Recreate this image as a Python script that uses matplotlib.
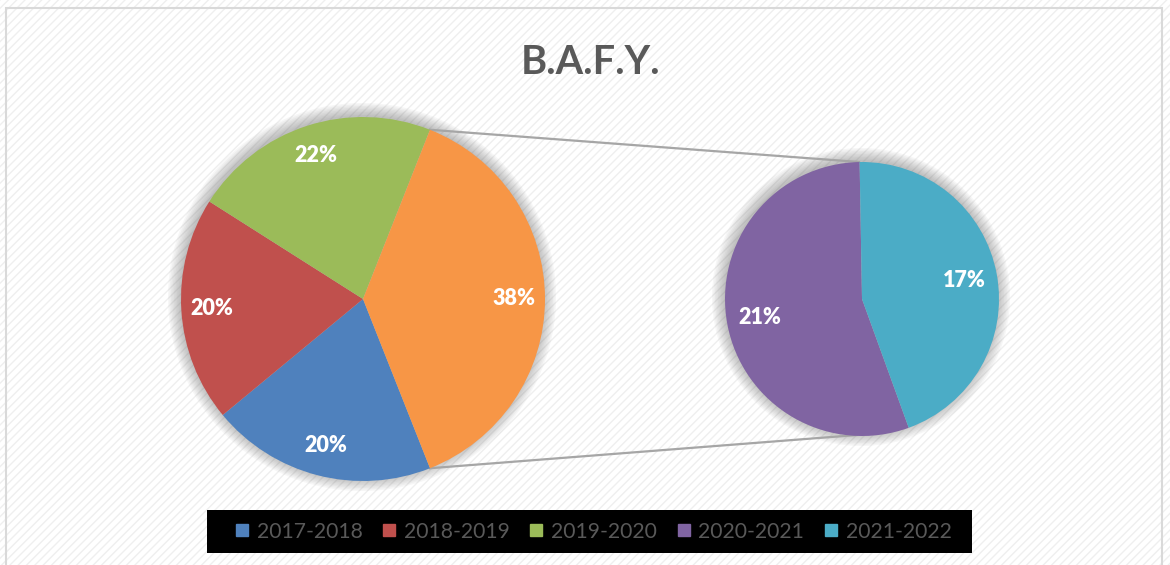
import numpy as np
import matplotlib.pyplot as plt
from matplotlib.patches import Circle, Rectangle
from matplotlib.lines import Line2D

plt.rcParams['font.family'] = ['Lato', 'DejaVu Sans']

# data (percent of total)
years = ["2017-2018", "2018-2019", "2019-2020", "2020-2021", "2021-2022"]
shares = [20, 20, 22, 21, 17]
colors = ["#4F81BD", "#C0504D", "#9BBB59", "#8064A2", "#4BACC6"]
other_color = "#F79646"

main_vals = shares[:3] + [shares[3] + shares[4]]
main_cols = colors[:3] + [other_color]
sub_vals = shares[3:]
sub_cols = colors[3:]

W, H = 1170, 565
fig = plt.figure(figsize=(W / 100, H / 100), dpi=100)
fig.patch.set_facecolor("white")
ax = fig.add_axes([0, 0, 1, 1])

# faint diagonal background texture
ax.add_patch(Rectangle((0, 0), W, H, facecolor="white", edgecolor="#efefef",
                       hatch="////", linewidth=0, zorder=0))
ax.add_patch(Rectangle((6, -10), 1156, H - 8 + 10, fill=False,
                       edgecolor="#d9d9d9", linewidth=1.5, zorder=1))

c1, r1 = (363, 266), 182
c2, r2 = (862, 266), 137

# soft shadows around the pies
for c, r in [(c1, r1), (c2, r2)]:
    for k in range(9):
        ax.add_patch(Circle((c[0] - 1, c[1] + 2), r + 12 - k * 1.5,
                            facecolor="#6f6f6f", alpha=0.06, linewidth=0,
                            zorder=2))

def pct(vals):
    it = iter(vals)
    return lambda p: "{}%".format(next(it))

lbl = dict(color="white", fontsize=15.5, fontweight="heavy")
w1, _, t1 = ax.pie(main_vals, colors=main_cols, center=c1, radius=r1,
                   startangle=-68.4, counterclock=False,
                   autopct=pct(main_vals), pctdistance=0.83,
                   wedgeprops=dict(linewidth=0, zorder=3), textprops=lbl)
w2, _, t2 = ax.pie(sub_vals, colors=sub_cols, center=c2, radius=r2,
                   startangle=91, counterclock=True,
                   autopct=pct(sub_vals), pctdistance=0.76,
                   wedgeprops=dict(linewidth=0, zorder=3), textprops=lbl)
for t in list(t1) + list(t2):
    t.set_zorder(5)

# connector lines from "other" slice to secondary pie
ow = w1[3]
a_top = np.deg2rad(ow.theta2)
a_bot = np.deg2rad(ow.theta1)
p_top = (c1[0] + r1 * np.cos(a_top), c1[1] + r1 * np.sin(a_top))
p_bot = (c1[0] + r1 * np.cos(a_bot), c1[1] + r1 * np.sin(a_bot))
ax.plot([p_top[0], c2[0] - 3], [p_top[1], c2[1] + r2], color="#a6a6a6",
        linewidth=1.6, zorder=2.5)
ax.plot([p_bot[0], c2[0] - 5], [p_bot[1], c2[1] - r2 + 1], color="#a6a6a6",
        linewidth=1.6, zorder=2.5)

ax.set_xlim(0, W)
ax.set_ylim(0, H)
ax.set_aspect("equal")
ax.axis("off")

ax.text(591, H - 62, "B.A.F.Y.", ha="center", va="center", fontsize=28.5,
        fontweight="bold", color="#595959", zorder=5)

# legend on a black band
ax.add_patch(Rectangle((207, 12), 765, 43, facecolor="black",
                       edgecolor="none", zorder=4))
handles = [Line2D([], [], marker="s", linestyle="none", markersize=8,
                  markerfacecolor=c, markeredgecolor=c) for c in colors]
leg = ax.legend(handles, years, loc="center", bbox_to_anchor=(593, 33.5),
                bbox_transform=ax.transData, ncol=5, frameon=False,
                fontsize=15.2, handlelength=0.7, handletextpad=0.34,
                columnspacing=0.92, borderpad=0, borderaxespad=0)
leg.set_zorder(6)
for txt in leg.get_texts():
    txt.set_color("#595959")

fig.savefig("out.png", dpi=100, facecolor="white")
